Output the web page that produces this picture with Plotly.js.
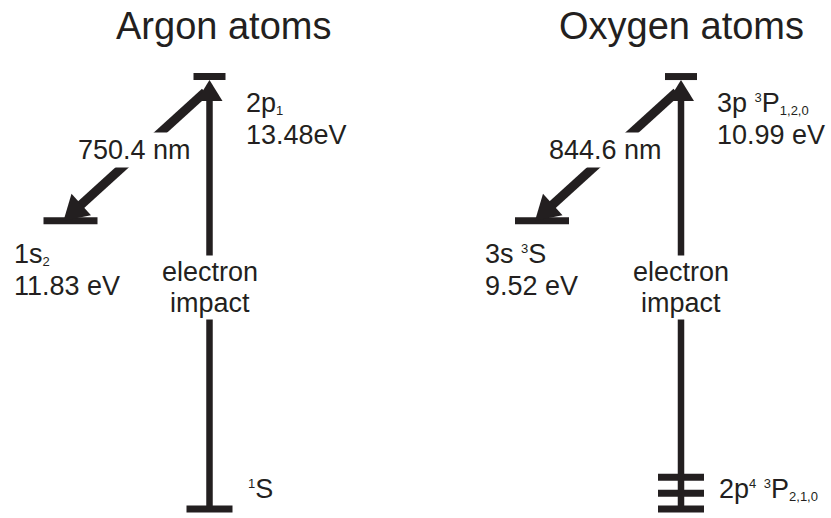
<!DOCTYPE html>
<html><head><meta charset="utf-8">
<script src="https://cdn.plot.ly/plotly-3.0.1.min.js"></script>
<style>html,body{margin:0;padding:0;background:#fff;}#chart{width:831px;height:518px;}</style>
</head><body><div id="chart"></div>
<script>
// ---------------- data ----------------
const atoms = ['Argon atoms', 'Oxygen atoms'];
// state labels: [main, superscript-before, main, subscript] pieces written with ^{} and _{}
const upperStates = ['2p_{1}', '3p ^{3}P_{1,2,0}'];
const upperEnergies = ['13.48eV', '10.99 eV'];
const lowerStates = ['1s_{2}', '3s ^{3}S'];
const lowerEnergies = ['11.83 eV', '9.52 eV'];
const groundStates = ['^{1}S', '2p^{4} ^{3}P_{2,1,0}'];
const groundSublevels = [1, 3];
const wavelengths = ['750.4 nm', '844.6 nm'];
const excitationLabel = ['electron', 'impact'];

// ---------------- layout constants ----------------
const INK = '#231f20';
const FONT = 'Liberation Sans, Arial, Helvetica, sans-serif';
const FS = 27, FS_TITLE = 38, FS_SMALL = 13;
const colX = [2.095, 6.81];           // excitation arrow column per atom
const titleX = [2.23, 6.815];
const Y_GROUND = 0, Y_LOWER = 10, Y_UPPER = 15, SUB_STEP = 0.55;
const LOWER_DX = -1.39;
const HW_UPPER = 0.16, HW_LOWER = 0.27, HW_GROUND = 0.23;
const BAR_W = 7;
const X_RANGE = [0, 8.31], Y_RANGE = [-0.312, 17.655];
const W = 831, H = 518;
const PXX = W / (X_RANGE[1] - X_RANGE[0]);
const PXY = H / (Y_RANGE[1] - Y_RANGE[0]);

// sub/superscripts as small, baseline-shifted spans
function rich(s) {
  return s
    .replace(/\^\{(.*?)\}/g, '<span style="font-size:' + FS_SMALL + 'px;baseline-shift:10px">$1</span>')
    .replace(/_\{(.*?)\}/g, '<span style="font-size:' + FS_SMALL + 'px;baseline-shift:-3px">$1</span>');
}

const traces = [];
// energy level bars
const xs = [], ys = [];
function seg(x0, x1, y) { xs.push(x0, x1, null); ys.push(y, y, null); }
// arrows: shaft line + filled triangular head, geometry worked out in screen pixels
function arrow(x0, y0, x1, y1, width, headLen, headWid, standoffPx) {
  const ax = x0 * PXX, ay = -y0 * PXY, bx = x1 * PXX, by = -y1 * PXY;
  const L = Math.hypot(bx - ax, by - ay);
  const dx = (bx - ax) / L, dy = (by - ay) / L;
  const tx = bx - dx * standoffPx, ty = by - dy * standoffPx;
  const baseX = tx - dx * headLen, baseY = ty - dy * headLen;
  const nx = -dy, ny = dx;
  const toD = (px, py) => [px / PXX, -py / PXY];
  const s0 = toD(ax, ay), s1 = toD(baseX + dx * 2, baseY + dy * 2);
  traces.push({type: 'scatter', mode: 'lines', x: [s0[0], s1[0]], y: [s0[1], s1[1]],
    line: {color: INK, width: width}, hoverinfo: 'skip'});
  const p1 = toD(tx, ty), p2 = toD(baseX + nx * headWid / 2, baseY + ny * headWid / 2),
        p3 = toD(baseX - nx * headWid / 2, baseY - ny * headWid / 2);
  traces.push({type: 'scatter', mode: 'lines', x: [p1[0], p2[0], p3[0], p1[0]], y: [p1[1], p2[1], p3[1], p1[1]],
    fill: 'toself', fillcolor: INK, line: {width: 0, color: INK}, hoverinfo: 'skip'});
}

atoms.forEach((name, i) => {
  const cx = colX[i];
  const lx = cx + LOWER_DX;
  seg(cx - HW_UPPER, cx + HW_UPPER, Y_UPPER);
  seg(lx - HW_LOWER, lx + HW_LOWER, Y_LOWER);
  for (let j = 0; j < groundSublevels[i]; j++) seg(cx - HW_GROUND, cx + HW_GROUND, Y_GROUND + j * SUB_STEP);
  // emission (diagonal) arrow, upper level -> lower level
  arrow(cx - 0.045, Y_UPPER - 0.54, lx - 0.07, Y_LOWER, 9, 24, 29, 0);
  // excitation arrow, ground -> upper level
  arrow(cx, Y_GROUND, cx, Y_UPPER, 6.5, 21, 26, 3.5);
});
traces.unshift({type: 'scatter', mode: 'lines', x: xs, y: ys, line: {color: INK, width: BAR_W}, hoverinfo: 'skip', connectgaps: false});

const annotations = [];
const txt = (o) => Object.assign({xref: 'x', yref: 'y', showarrow: false, yanchor: 'middle', align: 'left',
  font: {family: FONT, size: FS, color: INK}}, o);
atoms.forEach((name, i) => {
  const cx = colX[i];
  const lx = cx + LOWER_DX;
  annotations.push(txt({x: titleX[i], y: 16.77, text: name, xanchor: 'center', font: {family: FONT, size: FS_TITLE, color: INK}}));
  annotations.push(txt({x: cx + 0.34, y: Y_UPPER - 0.92, text: rich(upperStates[i]), xanchor: 'left'}));
  annotations.push(txt({x: cx + 0.34, y: Y_UPPER - 2.03, text: upperEnergies[i], xanchor: 'left'}));
  annotations.push(txt({x: lx - 0.59, y: Y_LOWER - 1.16, text: rich(lowerStates[i]), xanchor: 'left'}));
  annotations.push(txt({x: lx - 0.59, y: Y_LOWER - 2.27, text: lowerEnergies[i], xanchor: 'left'}));
  annotations.push(txt({x: cx + 0.36, y: Y_GROUND + 0.68, text: rich(groundStates[i]), xanchor: 'left'}));
  annotations.push(txt({x: cx - 0.755, y: 12.45, text: wavelengths[i], xanchor: 'center', bgcolor: '#ffffff', borderpad: 2}));
  annotations.push(txt({x: cx, y: 8.22, text: excitationLabel[0], xanchor: 'center', bgcolor: '#ffffff', borderpad: 1}));
  annotations.push(txt({x: cx, y: 7.15, text: excitationLabel[1], xanchor: 'center', bgcolor: '#ffffff', borderpad: 1}));
});

const layout = {
  width: W, height: H,
  margin: {l: 0, r: 0, t: 0, b: 0},
  paper_bgcolor: '#ffffff', plot_bgcolor: '#ffffff',
  showlegend: false,
  xaxis: {range: X_RANGE, visible: false, fixedrange: true},
  yaxis: {range: Y_RANGE, visible: false, fixedrange: true},
  annotations: annotations
};
Plotly.newPlot('chart', traces, layout, {staticPlot: true, displayModeBar: false});
</script></body></html>
